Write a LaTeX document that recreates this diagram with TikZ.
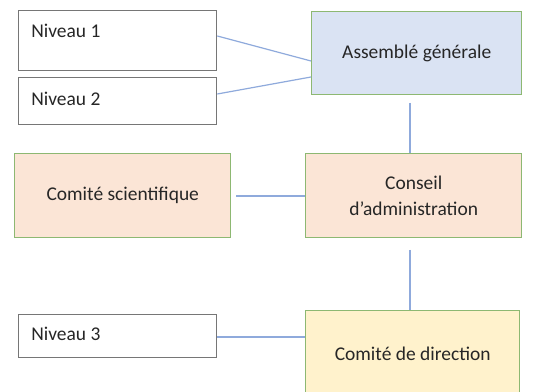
\documentclass[tikz,border=0pt]{standalone}
\usepackage{fontspec}
\setmainfont{Carlito}
\definecolor{agblue}{HTML}{DAE3F3}
\definecolor{capeach}{HTML}{FBE5D6}
\definecolor{cdyellow}{HTML}{FFF2CC}
\definecolor{boxgreen}{HTML}{8DB872}
\definecolor{lvlgray}{HTML}{767676}
\definecolor{linkblue}{HTML}{8FAADC}
\definecolor{txt}{HTML}{262626}
\begin{document}
\begin{tikzpicture}[x=0.75pt,y=-0.75pt,
  font=\fontsize{14.6}{18}\selectfont, text=txt,
  lvl/.style={draw=lvlgray,line width=1pt,fill=white,inner sep=0pt},
  org/.style={draw=boxgreen,line width=1.1pt,inner sep=0pt},
  link/.style={draw=linkblue,line width=0.9pt}]
\clip (0,0) rectangle (543,392);
\fill[white] (0,0) rectangle (543,392);
% level boxes
\node[lvl,anchor=north west,minimum width=148.5pt,minimum height=45pt] (n1) at (18,10) {};
\node[anchor=west,inner xsep=0pt] at (31,31) {Niveau 1};
\node[lvl,anchor=north west,minimum width=148.5pt,minimum height=35.25pt] (n2) at (18,77) {};
\node[anchor=west,inner xsep=0pt] at (31,99) {Niveau 2};
\node[lvl,anchor=north west,minimum width=148.5pt,minimum height=32.25pt] (n3) at (18,314) {};
\node[anchor=west,inner xsep=0pt] at (31,334) {Niveau 3};
% org boxes
\node[org,fill=agblue,anchor=north west,minimum width=157.5pt,minimum height=62.25pt] (ag) at (311,11) {Assemblé générale};
\node[org,fill=capeach,anchor=north west,minimum width=162pt,minimum height=63pt] (cs) at (14,153) {Comité scientifique};
\node[org,fill=capeach,anchor=north west,minimum width=162pt,minimum height=63pt,align=center] (ca) at (305,153) {Conseil\\[1.5pt]d’administration};
\node[org,fill=cdyellow,anchor=north west,minimum width=160.5pt,minimum height=65pt] (cd) at (305,310) {Comité de direction};
% connectors
\coordinate (agb) at (410,103);
\coordinate (cab) at (410,250);
\coordinate (csr) at (236,196);
\draw[link] (n1.east |- 0,36) -- (ag.west |- 0,61);
\draw[link] (n2.east |- 0,94) -- (ag.west |- 0,77);
\draw[link] (agb) -- (agb |- ca.north);
\draw[link] (csr) -- (ca.west |- csr);
\draw[link] (cab) -- (cab |- cd.north);
\draw[link] (n3.east |- 0,337) -- (cd.west |- 0,337);
\end{tikzpicture}
\end{document}
